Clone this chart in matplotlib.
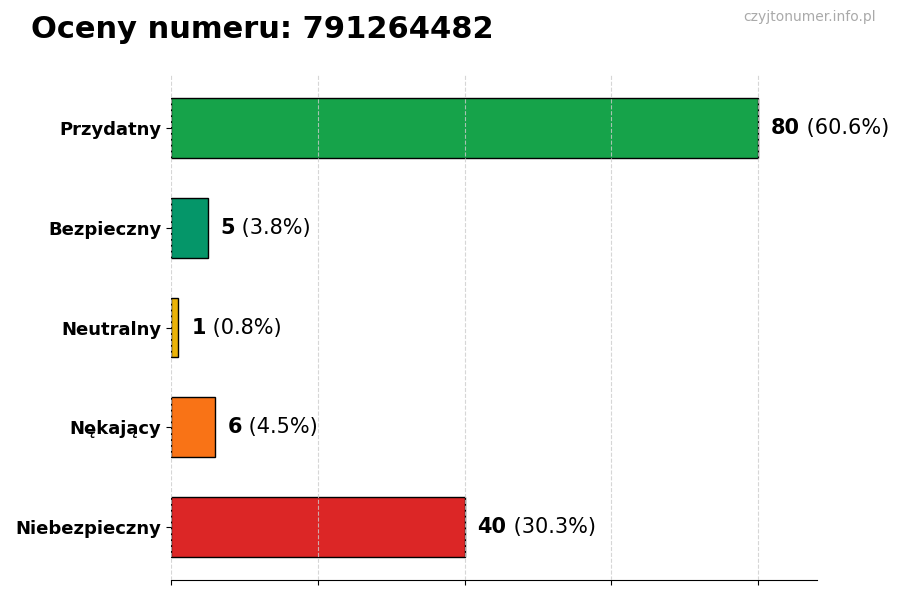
import matplotlib
matplotlib.use("Agg")
import matplotlib.pyplot as plt

categories = ["Przydatny", "Bezpieczny", "Neutralny", "Nękający", "Niebezpieczny"]
values = [80, 5, 1, 6, 40]
colors = ["#16a34a", "#059669", "#eab308", "#f97316", "#dc2626"]
title = "Oceny numeru: 791264482"
watermark = "czyjtonumer.info.pl"

total = sum(values)
fig = plt.figure(figsize=(9, 6), dpi=100)
ax = fig.add_axes([0.19, 0.0333, 0.7178, 0.8417])

ypos = list(range(len(categories)))[::-1]
ax.barh(ypos, values, height=0.6, color=colors, edgecolor="black", linewidth=1, zorder=2)
xmax = max(values) * 1.1
ax.set_xlim(0, xmax)
ax.set_yticks(ypos)
ax.set_yticklabels(categories, fontsize=13, fontweight="bold")
ax.set_xticks([0, 20, 40, 60, 80])
ax.set_xticklabels([])
ax.grid(axis="x", linestyle="--", color="#cccccc", alpha=0.8, zorder=3)
ax.set_axisbelow(False)
for s in ["top", "right", "left"]:
    ax.spines[s].set_visible(False)

off = xmax * 0.02
for y, v in zip(ypos, values):
    t = ax.text(v + off, y, f"{v}", fontsize=15, fontweight="bold", va="center", ha="left")
    ax.annotate(f" ({v / total * 100:.1f}%)", xycoords=t, xy=(1, 0.5), va="center", ha="left", fontsize=15)

fig.text(31 / 900, 1 - 30 / 600, title, fontsize=22, fontweight="bold", ha="left", va="center")
fig.text(876 / 900, 1 - 17 / 600, watermark, fontsize=10, color="#aaaaaa", ha="right", va="center")
fig.savefig("out.png", dpi=100)
